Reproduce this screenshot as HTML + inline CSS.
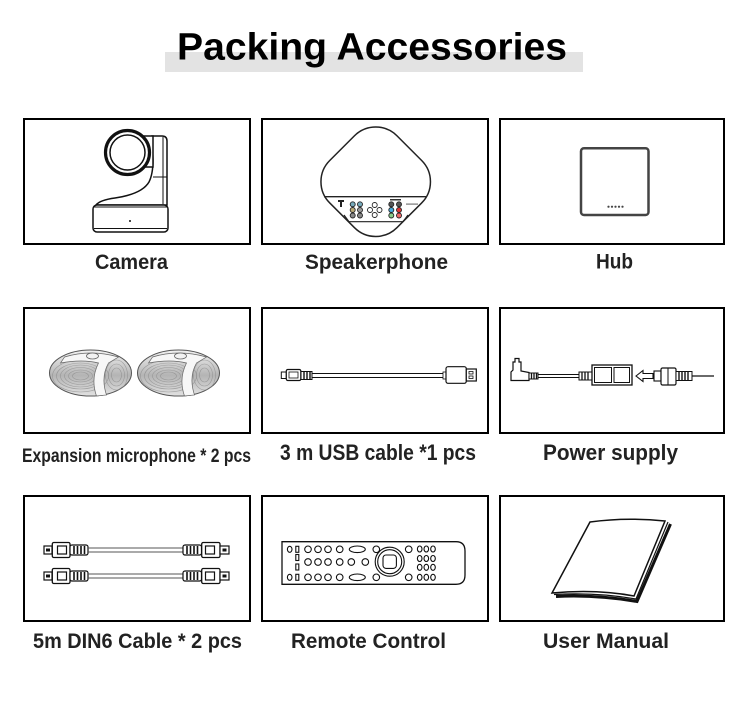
<!DOCTYPE html>
<html>
<head>
<meta charset="utf-8">
<style>
html,body{margin:0;padding:0;background:#fff;}
svg{display:block;}
.lbl{font-family:"Liberation Sans",sans-serif;font-weight:bold;fill:#222;}
</style>
</head>
<body>
<svg width="750" height="716" viewBox="0 0 750 716" xmlns="http://www.w3.org/2000/svg">
<defs>
  <linearGradient id="mg" x1="0" y1="0" x2="0" y2="1">
    <stop offset="0" stop-color="#f2f2f2"/>
    <stop offset="0.55" stop-color="#b4b4b4"/>
    <stop offset="1" stop-color="#e2e2e2"/>
  </linearGradient>
  <g id="mic">
    <ellipse cx="0" cy="0" rx="41" ry="23" fill="url(#mg)" stroke="#555" stroke-width="1"/>
    <g fill="none" stroke="#888" stroke-width="0.6" opacity="0.7">
      <ellipse cx="-10" cy="3" rx="28" ry="16"/>
      <ellipse cx="-10" cy="3" rx="24" ry="13"/>
      <ellipse cx="-10" cy="3" rx="20" ry="11"/>
      <ellipse cx="-10" cy="3" rx="16" ry="8.5"/>
      <ellipse cx="-10" cy="3" rx="12" ry="6"/>
      <ellipse cx="-10" cy="3" rx="8" ry="4"/>
      <ellipse cx="26" cy="2" rx="11" ry="15"/>
      <ellipse cx="26" cy="2" rx="8" ry="11"/>
      <ellipse cx="26" cy="2" rx="5" ry="7"/>
    </g>
    <path d="M-26,-16 Q0,-24 28,-16 L18,-10 Q10,4 16,22 L6,23 Q0,6 8,-10 Q-8,-14 -30,-10 Z" fill="#f7f7f7" stroke="#666" stroke-width="0.7"/>
    <ellipse cx="2" cy="-17" rx="6" ry="3" fill="#f2f2f2" stroke="#666" stroke-width="0.8"/>
  </g>
  <g id="din">
    <rect x="44" y="-4" width="8" height="8" fill="#fff" stroke="#111" stroke-width="1.2"/>
    <rect x="46" y="-1.5" width="4" height="3" fill="#111"/>
    <rect x="52.3" y="-7.5" width="17.7" height="15" rx="1.5" fill="#fff" stroke="#111" stroke-width="1.3"/>
    <rect x="57.5" y="-4" width="9" height="8" fill="#fff" stroke="#111" stroke-width="1.2"/>
    <rect x="70" y="-5" width="18" height="10" rx="2" fill="#fff" stroke="#111" stroke-width="1.2"/>
    <g stroke="#111" stroke-width="1.6"><line x1="74" y1="-4" x2="74" y2="4"/><line x1="77.5" y1="-4" x2="77.5" y2="4"/><line x1="81" y1="-4" x2="81" y2="4"/><line x1="84.5" y1="-4" x2="84.5" y2="4"/></g>
    <line x1="88" y1="-2" x2="183" y2="-2" stroke="#555" stroke-width="1"/>
    <line x1="88" y1="2" x2="183" y2="2" stroke="#555" stroke-width="1"/>
    <rect x="183" y="-5" width="18.5" height="10" rx="2" fill="#fff" stroke="#111" stroke-width="1.2"/>
    <g stroke="#111" stroke-width="1.6"><line x1="187" y1="-4" x2="187" y2="4"/><line x1="190.5" y1="-4" x2="190.5" y2="4"/><line x1="194" y1="-4" x2="194" y2="4"/><line x1="197.5" y1="-4" x2="197.5" y2="4"/></g>
    <rect x="201.7" y="-7.5" width="18.3" height="15" rx="1.5" fill="#fff" stroke="#111" stroke-width="1.3"/>
    <rect x="205.5" y="-4" width="9" height="8" fill="#fff" stroke="#111" stroke-width="1.2"/>
    <rect x="220" y="-4" width="9" height="8" fill="#fff" stroke="#111" stroke-width="1.2"/>
    <rect x="222.5" y="-1.5" width="4" height="3" fill="#111"/>
  </g>
</defs>

<!-- Title -->
<rect x="165" y="52" width="418" height="20" fill="#e3e3e3"/>
<text x="177" y="59.5" font-family="Liberation Sans, sans-serif" font-weight="bold" font-size="38" fill="#000" textLength="390" lengthAdjust="spacingAndGlyphs">Packing Accessories</text>

<!-- Boxes -->
<g fill="none" stroke="#000" stroke-width="2">
  <rect x="24" y="119" width="226" height="125"/>
  <rect x="262" y="119" width="226" height="125"/>
  <rect x="500" y="119" width="224" height="125"/>
  <rect x="24" y="308" width="226" height="125"/>
  <rect x="262" y="308" width="226" height="125"/>
  <rect x="500" y="308" width="224" height="125"/>
  <rect x="24" y="496" width="226" height="125"/>
  <rect x="262" y="496" width="226" height="125"/>
  <rect x="500" y="496" width="224" height="125"/>
</g>

<!-- Camera -->
<g stroke="#111" fill="#fff">
  <path d="M152,136 L162,136 Q167,136 167,141 L167,205 L96,205 Q100,200 115,198 Q142,194 149,182 Q153,174 153,160 Z" stroke-width="1.5"/>
  <line x1="163" y1="137" x2="163" y2="204" stroke-width="1"/>
  <line x1="153" y1="177" x2="167" y2="177" stroke-width="1"/>
  <rect x="93" y="205" width="75" height="27" rx="4" stroke-width="1.5"/>
  <line x1="94" y1="228.5" x2="167" y2="228.5" stroke-width="1"/>
  <line x1="93" y1="207" x2="168" y2="207" stroke-width="1"/>
  <rect x="138" y="136" width="15" height="31" stroke-width="1.5"/>
  <circle cx="127.5" cy="152.5" r="22" stroke-width="3.2"/>
  <circle cx="127.5" cy="152.5" r="17.5" stroke-width="1.5"/>
  <circle cx="130" cy="221" r="1" fill="#111" stroke="none"/>
</g>

<!-- Speakerphone -->
<g>
  <rect x="-47.5" y="-47.5" width="95" height="95" rx="30" transform="translate(375.7,181.7) rotate(45)" fill="#fff" stroke="#222" stroke-width="1.5"/>
  <line x1="324" y1="196.7" x2="427" y2="196.7" stroke="#222" stroke-width="1.3"/>
  <path d="M344,215 L349,221.7 L403,221.7 L408,215" fill="none" stroke="#222" stroke-width="1.2"/>
  <path d="M338,201 L344,201 M341,201 L341,207" stroke="#222" stroke-width="2"/>
  <g stroke="#222" stroke-width="0.9">
    <circle cx="352.7" cy="204.3" r="2.5" fill="#7ab"/>
    <circle cx="360" cy="204.3" r="2.5" fill="#7ab"/>
    <circle cx="352.7" cy="210" r="2.5" fill="#ba7"/>
    <circle cx="360" cy="210" r="2.5" fill="#999"/>
    <circle cx="352.7" cy="215.5" r="2.5" fill="#888"/>
    <circle cx="360" cy="215.5" r="2.5" fill="#888"/>
    <circle cx="374.7" cy="205" r="2.5" fill="#fff"/>
    <circle cx="370" cy="210" r="2.5" fill="#fff"/>
    <circle cx="379.5" cy="210" r="2.5" fill="#fff"/>
    <circle cx="374.7" cy="215" r="2.5" fill="#fff"/>
    <circle cx="391.3" cy="204.3" r="2.5" fill="#555"/>
    <circle cx="399" cy="204.3" r="2.5" fill="#555"/>
    <circle cx="391.3" cy="210" r="2.5" fill="#4ad"/>
    <circle cx="399" cy="210" r="2.5" fill="#d33"/>
    <circle cx="391.3" cy="215.5" r="2.5" fill="#8c8"/>
    <circle cx="399" cy="215.5" r="2.5" fill="#e66"/>
  </g>
  <rect x="390" y="199" width="11" height="1.5" fill="#333"/>
  <rect x="406" y="203.5" width="12" height="1.2" fill="#777"/>
</g>

<!-- Hub -->
<rect x="581" y="148.3" width="67.5" height="66.7" rx="3" fill="#fff" stroke="#444" stroke-width="2.5"/>
<g fill="#444">
  <circle cx="608.5" cy="206.7" r="1.1"/><circle cx="612" cy="206.7" r="1.1"/><circle cx="615.5" cy="206.7" r="1.1"/><circle cx="619" cy="206.7" r="1.1"/><circle cx="622.5" cy="206.7" r="1.1"/>
</g>

<!-- Expansion microphones -->
<use href="#mic" transform="translate(90.5,373)"/>
<use href="#mic" transform="translate(178.5,373)"/>

<!-- USB cable -->
<g stroke="#111" fill="#fff">
  <rect x="281.3" y="372" width="5" height="6.5" stroke-width="1"/>
  <rect x="286.3" y="369.5" width="14.5" height="11" rx="1.5" stroke-width="1.2"/>
  <rect x="289" y="372" width="9" height="6" stroke-width="0.8"/>
  <rect x="301" y="371.5" width="11" height="8" stroke-width="1"/>
  <g stroke-width="1.4"><line x1="304" y1="372" x2="304" y2="379"/><line x1="307" y1="372" x2="307" y2="379"/><line x1="310" y1="372" x2="310" y2="379"/></g>
  <line x1="312" y1="373.5" x2="444" y2="373.5" stroke-width="1"/>
  <line x1="312" y1="377.5" x2="444" y2="377.5" stroke-width="1"/>
  <rect x="443" y="372" width="3" height="7" stroke-width="0.8"/>
  <rect x="446" y="366.7" width="20.3" height="16.6" rx="2" stroke-width="1.2"/>
  <rect x="466.3" y="369" width="10" height="12" stroke-width="1.2"/>
  <rect x="469" y="371.5" width="4" height="2.5" stroke-width="0.8"/>
  <rect x="469" y="376" width="4" height="2.5" stroke-width="0.8"/>
</g>

<!-- Power supply -->
<g stroke="#111" fill="#fff">
  <path d="M513,370 L513,362 L515,362 L515,358.5 L519,358.5 L519,362 L521,362 L521,371 L529,372.5 L529,380.5 L511,380.5 L511,372 Z" stroke-width="1.2"/>
  <rect x="529" y="373" width="9" height="6" stroke-width="1"/>
  <g stroke-width="1.3"><line x1="531.5" y1="373.5" x2="531.5" y2="378.5"/><line x1="534" y1="373.5" x2="534" y2="378.5"/><line x1="536.5" y1="373.5" x2="536.5" y2="378.5"/></g>
  <line x1="538" y1="374.5" x2="579" y2="374.5" stroke-width="1"/>
  <line x1="538" y1="377.5" x2="579" y2="377.5" stroke-width="1"/>
  <rect x="579" y="372" width="13" height="8" stroke-width="1"/>
  <g stroke-width="1.3"><line x1="582" y1="372.5" x2="582" y2="379.5"/><line x1="585" y1="372.5" x2="585" y2="379.5"/><line x1="588" y1="372.5" x2="588" y2="379.5"/></g>
  <rect x="592" y="365" width="40" height="20" stroke-width="1.3"/>
  <rect x="594.5" y="367.5" width="17" height="15" stroke-width="1"/>
  <rect x="614" y="367.5" width="15.5" height="15" stroke-width="1"/>
  <path d="M636,376 L643,370.5 L643,373.5 L653,373.5 L653,378.5 L643,378.5 L643,381.5 Z" stroke-width="1.1"/>
  <rect x="654" y="371" width="7" height="10" stroke-width="1.1"/>
  <rect x="661" y="368" width="15" height="17" rx="1.5" stroke-width="1.2"/>
  <line x1="668" y1="368" x2="668" y2="385" stroke-width="1"/>
  <rect x="676" y="371.5" width="16" height="9" stroke-width="1"/>
  <g stroke-width="1.4"><line x1="679" y1="372" x2="679" y2="380"/><line x1="682" y1="372" x2="682" y2="380"/><line x1="685" y1="372" x2="685" y2="380"/><line x1="688" y1="372" x2="688" y2="380"/></g>
  <line x1="692" y1="376" x2="714" y2="376" stroke-width="1.3"/>
</g>

<!-- DIN6 cables -->
<use href="#din" transform="translate(0,550)"/>
<use href="#din" transform="translate(0,576)"/>

<!-- Remote control -->
<g stroke="#111" fill="#fff" stroke-width="1.1">
  <path d="M282,541.7 L456,541.7 Q465,541.7 465,551 L465,575 Q465,584.3 456,584.3 L282,584.3 Z" stroke-width="1.3"/>
  <ellipse cx="289.7" cy="549.3" rx="2.3" ry="3"/>
  <ellipse cx="289.7" cy="577.3" rx="2.3" ry="3"/>
  <rect x="295.8" y="546.3" width="3" height="6"/>
  <rect x="295.8" y="554.5" width="3" height="6"/>
  <rect x="295.8" y="564" width="3" height="6"/>
  <rect x="295.8" y="574.3" width="3" height="6"/>
  <circle cx="308" cy="549.3" r="3.3"/><circle cx="318" cy="549.3" r="3.3"/><circle cx="328" cy="549.3" r="3.3"/><circle cx="339.7" cy="549.3" r="3.3"/>
  <ellipse cx="357.3" cy="549.3" rx="8" ry="3.3"/>
  <circle cx="376.3" cy="549.3" r="3.3"/>
  <circle cx="308" cy="562" r="3.3"/><circle cx="318" cy="562" r="3.3"/><circle cx="328" cy="562" r="3.3"/><circle cx="339.7" cy="562" r="3.3"/><circle cx="351.3" cy="562" r="3.3"/><circle cx="365.3" cy="562" r="3.3"/>
  <circle cx="308" cy="577.3" r="3.3"/><circle cx="318" cy="577.3" r="3.3"/><circle cx="328" cy="577.3" r="3.3"/><circle cx="339.7" cy="577.3" r="3.3"/>
  <ellipse cx="357.3" cy="577.3" rx="8" ry="3.3"/>
  <circle cx="376.3" cy="577.3" r="3.3"/>
  <circle cx="389.7" cy="561.7" r="14.5"/>
  <circle cx="389.7" cy="561.7" r="12"/>
  <rect x="383" y="555" width="13.4" height="13.4" rx="3"/>
  <circle cx="408.7" cy="549.3" r="3.3"/>
  <circle cx="408.7" cy="577.3" r="3.3"/>
  <ellipse cx="419.7" cy="549" rx="2.3" ry="3"/><ellipse cx="426.3" cy="549" rx="2.3" ry="3"/><ellipse cx="433" cy="549" rx="2.3" ry="3"/>
  <ellipse cx="419.7" cy="558.5" rx="2.3" ry="3"/><ellipse cx="426.3" cy="558.5" rx="2.3" ry="3"/><ellipse cx="433" cy="558.5" rx="2.3" ry="3"/>
  <ellipse cx="419.7" cy="567.3" rx="2.3" ry="3"/><ellipse cx="426.3" cy="567.3" rx="2.3" ry="3"/><ellipse cx="433" cy="567.3" rx="2.3" ry="3"/>
  <ellipse cx="419.7" cy="577.3" rx="2.3" ry="3"/><ellipse cx="426.3" cy="577.3" rx="2.3" ry="3"/><ellipse cx="433" cy="577.3" rx="2.3" ry="3"/>
</g>

<!-- User manual -->
<g stroke="#111" fill="none">
  <path d="M556,596.5 Q596,594.5 637,601.5 L670.5,524" stroke-width="3"/>
  <path d="M554,594.5 Q596,592 636,599 L668,522" stroke-width="1.2"/>
  <path d="M590,522 Q626,517 665,521 L634,596 Q596,589 552,593 Z" fill="#fff" stroke-width="1.5"/>
</g>

<!-- Labels -->
<text class="lbl" x="95" y="269" font-size="21" textLength="73" lengthAdjust="spacingAndGlyphs">Camera</text>
<text class="lbl" x="305" y="269" font-size="21" textLength="143" lengthAdjust="spacingAndGlyphs">Speakerphone</text>
<text class="lbl" x="596" y="268.5" font-size="21" textLength="37" lengthAdjust="spacingAndGlyphs">Hub</text>
<text class="lbl" x="22" y="462" font-size="19.5" textLength="229" lengthAdjust="spacingAndGlyphs">Expansion microphone * 2 pcs</text>
<text class="lbl" x="280" y="460" font-size="22" textLength="196" lengthAdjust="spacingAndGlyphs">3 m USB cable *1 pcs</text>
<text class="lbl" x="543" y="460" font-size="22" textLength="135" lengthAdjust="spacingAndGlyphs">Power supply</text>
<text class="lbl" x="33" y="648" font-size="21" textLength="209" lengthAdjust="spacingAndGlyphs">5m DIN6 Cable * 2 pcs</text>
<text class="lbl" x="291" y="648" font-size="21" textLength="155" lengthAdjust="spacingAndGlyphs">Remote Control</text>
<text class="lbl" x="543" y="648" font-size="21" textLength="126" lengthAdjust="spacingAndGlyphs">User Manual</text>
</svg>
</body>
</html>
